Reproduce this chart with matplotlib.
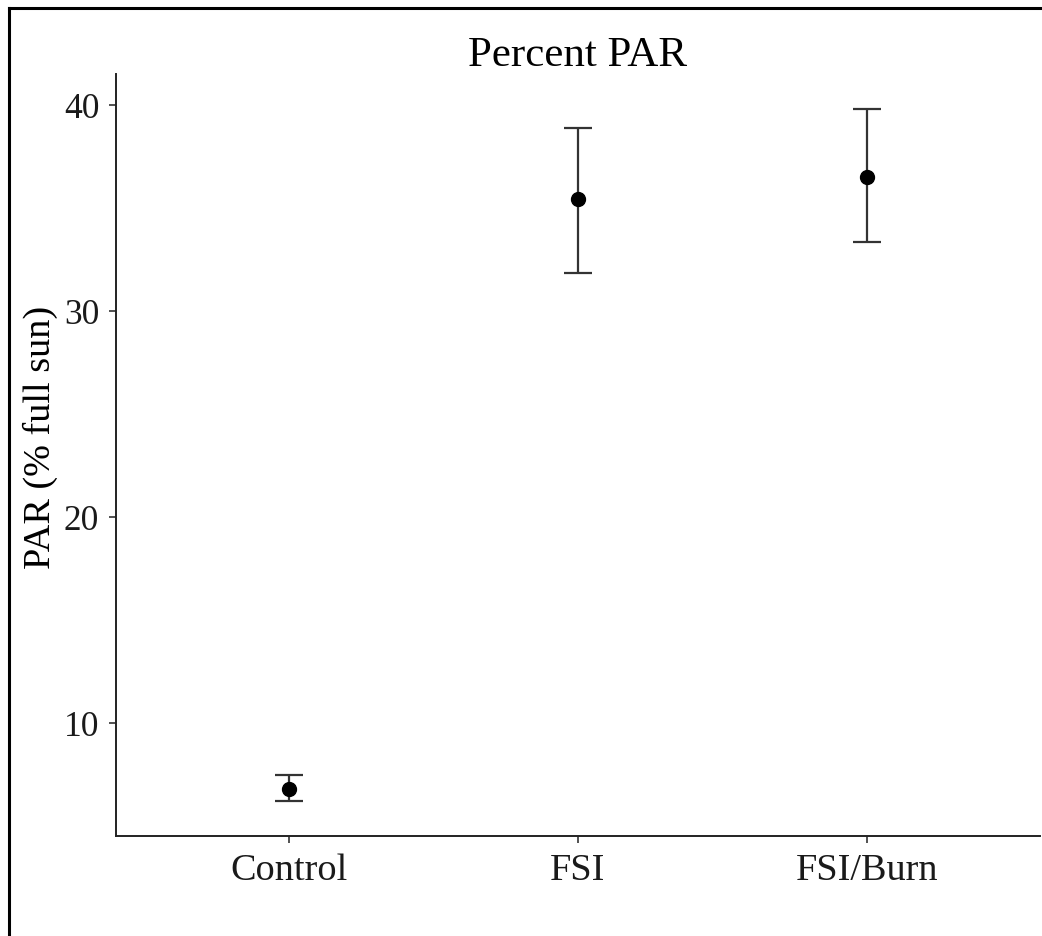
import matplotlib
matplotlib.use("Agg")
import matplotlib.pyplot as plt
from matplotlib.lines import Line2D

categories = ["Control", "FSI", "FSI/Burn"]
means = [6.8, 35.4, 36.5]
lower = [6.18, 31.84, 33.33]
upper = [7.44, 38.89, 39.81]
y_ticks = [10, 20, 30, 40]

plt.rcParams['font.family'] = ['Liberation Serif', 'DejaVu Serif']

W, H = 1042, 937
fig = plt.figure(figsize=(W / 100, H / 100), dpi=100)
ax_left, ax_right, ax_bottom, ax_top = 116, 1040, 837, 75
ax = fig.add_axes([ax_left / W, 1 - ax_bottom / H, (ax_right - ax_left) / W, (ax_bottom - ax_top) / H])

x = list(range(len(categories)))
yerr = [[m - l for m, l in zip(means, lower)], [u - m for m, u in zip(means, upper)]]
ax.errorbar(x, means, yerr=yerr, fmt='none', ecolor='#333333', elinewidth=1.6,
            capsize=10, capthick=1.6, zorder=2)
ax.scatter(x, means, s=100, color='black', zorder=3)

ax.set_xlim(-0.6, 2.6)
lo, hi = min(lower), max(upper)
pad = (hi - lo) * 0.05
ax.set_ylim(lo - pad, hi + pad)
ax.set_xticks(x)
ax.set_xticklabels(categories)
ax.set_yticks(y_ticks)
ax.tick_params(axis='both', length=5, width=1.2, color='#333333', labelcolor='#1a1a1a')
ax.tick_params(axis='x', labelsize=27.5, pad=7)
ax.tick_params(axis='y', labelsize=25.5, pad=7)
for s in ['top', 'right']:
    ax.spines[s].set_visible(False)
for s in ['left', 'bottom']:
    ax.spines[s].set_linewidth(1.4)
    ax.spines[s].set_color('#222222')

ax.set_ylabel("PAR (% full sun)", fontsize=27.5, va='center')
ax_w = ax_right - ax_left
ax_h = ax_bottom - ax_top
ax.yaxis.set_label_coords((40 - ax_left) / ax_w, (ax_bottom - 437) / ax_h)
ax.set_title("Percent PAR", fontsize=31, pad=6)

# outer frame (left and top edges)
fx = 9 / W
fy = 1 - 9 / H
fig.add_artist(Line2D([fx, fx], [0, fy], transform=fig.transFigure,
                      color='black', linewidth=2.2, solid_capstyle='projecting'))
fig.add_artist(Line2D([fx, 1], [fy, fy], transform=fig.transFigure,
                      color='black', linewidth=2.2, solid_capstyle='projecting'))

fig.savefig("out.png", dpi=100)
